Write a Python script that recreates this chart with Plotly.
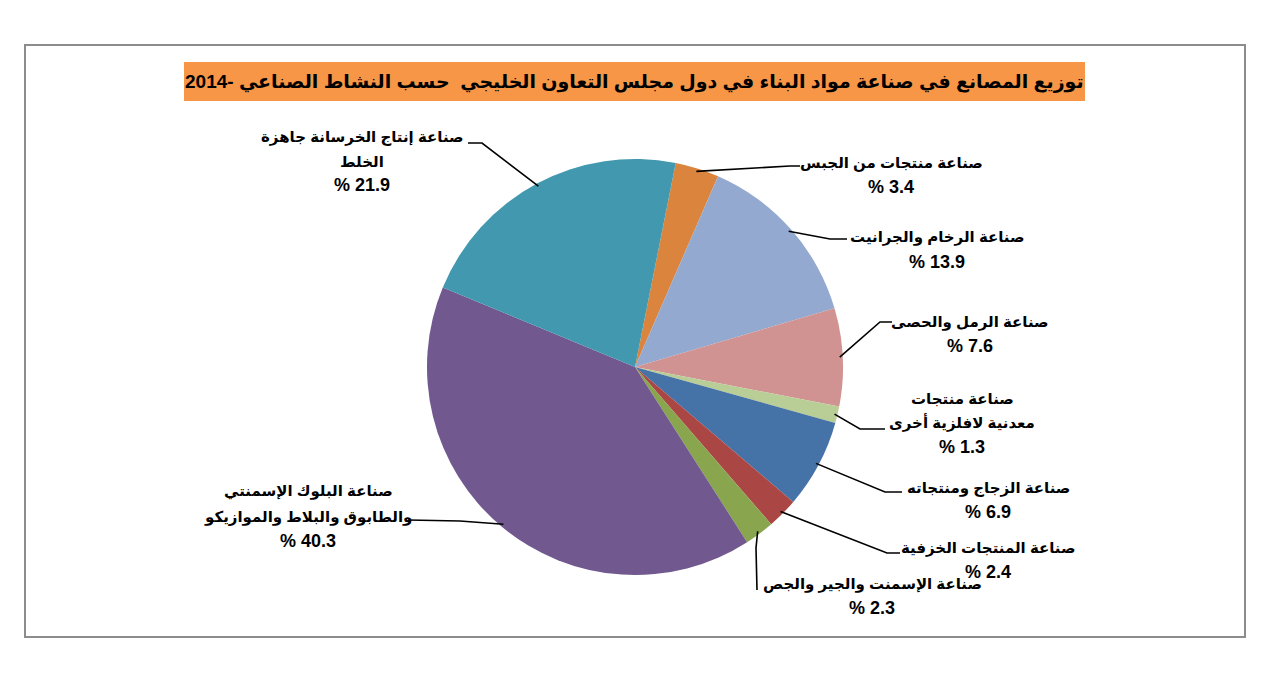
import math
import plotly.graph_objects as go

W, H = 1269, 686

# ---- data (clockwise from the gypsum slice) ----
labels_ar = [
    "صناعة منتجات من الجبس",
    "صناعة الرخام والجرانيت",
    "صناعة الرمل والحصى",
    "صناعة منتجات معدنية لافلزية أخرى",
    "صناعة الزجاج ومنتجاته",
    "صناعة المنتجات الخزفية",
    "صناعة الإسمنت والجير والجص",
    "صناعة البلوك الإسمنتي والطابوق والبلاط والموازيكو",
    "صناعة إنتاج الخرسانة جاهزة الخلط",
]
values = [3.4, 13.9, 7.6, 1.3, 6.9, 2.4, 2.3, 40.3, 21.9]
label_lines = [
    ["صناعة منتجات من الجبس"],
    ["صناعة الرخام والجرانيت"],
    ["صناعة الرمل والحصى"],
    ["صناعة منتجات", "معدنية لافلزية أخرى"],
    ["صناعة الزجاج ومنتجاته"],
    ["صناعة المنتجات الخزفية"],
    ["صناعة الإسمنت والجير والجص"],
    ["صناعة البلوك الإسمنتي", "والطابوق والبلاط والموازيكو"],
    ["صناعة إنتاج الخرسانة جاهزة", "الخلط"],
]
colors = ["#DB843D", "#93A9CF", "#D19392", "#B9CD96", "#4572A7",
          "#AA4643", "#89A54E", "#71588F", "#4198AF"]
title_text = "توزيع المصانع في صناعة مواد البناء في دول مجلس التعاون الخليجي  حسب النشاط الصناعي -2014"

# ---- layout positions (pixels) ----
CX, CY, R = 635, 367, 208
ROT = 11.3
text_pos = [
    (891, [163, 187]),
    (937, [237, 262]),
    (970, [322, 346]),
    (962, [398, 422, 447]),
    (988, [488, 512]),
    (988, [548, 572]),
    (872, [584, 608]),
    (308, [491, 517, 541]),
    (362, [137, 161, 185]),
]
leaders = [
    ((790, 166), (800, 166)),
    ((830, 239), (847, 239)),
    ((880, 322), (892, 322)),
    ((860, 429), (885, 429)),
    ((885, 492), (902, 492)),
    ((887, 553), (900, 553)),
    ((756, 548), (757, 590)),
    ((460, 521), (408, 520)),
    ((482, 143), (468, 143)),
]

FONT = "Arial, DejaVu Sans, sans-serif"


def px(x):
    return x / W


def py(y):
    return 1 - y / H


fig = go.Figure()
fig.add_trace(go.Pie(
    labels=labels_ar, values=values, sort=False, direction="clockwise",
    rotation=ROT, textinfo="none", hoverinfo="label+percent",
    marker=dict(colors=colors, line=dict(width=0)),
    domain=dict(x=[px(CX - R), px(CX + R)], y=[py(CY + R), py(CY - R)]),
    showlegend=False,
))

shapes = []
annotations = []

shapes.append(dict(type="rect", xref="paper", yref="paper",
                   x0=px(25), x1=px(1245), y0=py(637), y1=py(45),
                   line=dict(color="#8C8C8C", width=2), fillcolor="rgba(0,0,0,0)"))
shapes.append(dict(type="rect", xref="paper", yref="paper",
                   x0=px(184), x1=px(1085), y0=py(101), y1=py(62),
                   line=dict(width=0), fillcolor="#F79646"))
annotations.append(dict(xref="paper", yref="paper", x=px(634), y=py(82),
                        text="<b>" + title_text + "</b>", showarrow=False,
                        xanchor="center", yanchor="middle",
                        font=dict(family=FONT, size=19, color="black")))

total = sum(values)
start = ROT
for i, v in enumerate(values):
    ang = start + v / total * 360 / 2
    start += v / total * 360
    a = math.radians(ang)
    ex, ey = CX + (R - 3) * math.sin(a), CY - (R - 3) * math.cos(a)
    (bx, by), (tx, ty) = leaders[i]
    path = f"M {px(ex)},{py(ey)} L {px(bx)},{py(by)} L {px(tx)},{py(ty)}"
    shapes.append(dict(type="path", xref="paper", yref="paper", path=path,
                       line=dict(color="black", width=1.6)))
    cxl, ys = text_pos[i]
    lines = [f"<b>{t}</b>" for t in label_lines[i]] + [f"<b>% {values[i]}</b>"]
    for j, (t, yy) in enumerate(zip(lines, ys)):
        is_num = j == len(lines) - 1
        annotations.append(dict(xref="paper", yref="paper", x=px(cxl), y=py(yy),
                                text=t, showarrow=False, xanchor="center", yanchor="middle",
                                font=dict(family=FONT, size=18 if is_num else 15,
                                          color="black")))

fig.update_layout(
    width=W, height=H, margin=dict(l=0, r=0, t=0, b=0),
    paper_bgcolor="white", plot_bgcolor="white",
    shapes=shapes, annotations=annotations,
)
fig.write_html("out.html", config={"displayModeBar": False},
               post_script="document.body.style.margin='0px';")
